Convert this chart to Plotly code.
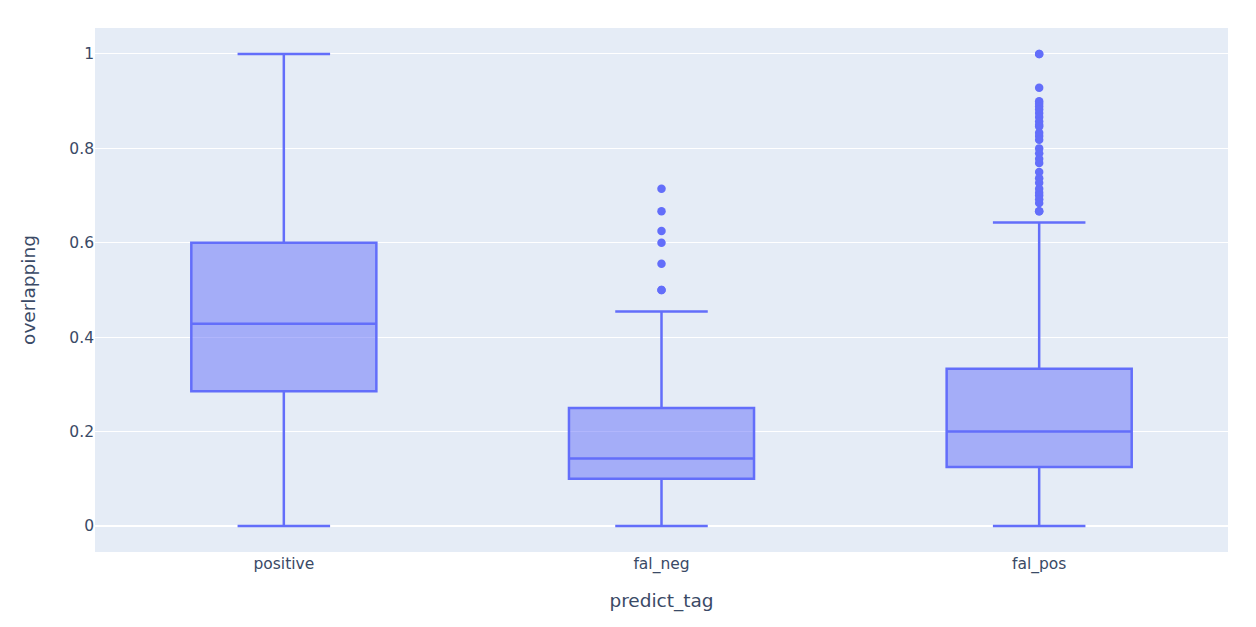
import plotly.graph_objects as go

# categories and box statistics
tags = ['positive', 'fal_neg', 'fal_pos']
q1 = [0.2857, 0.1, 0.125]
median = [0.4286, 0.1429, 0.2]
q3 = [0.6, 0.25, 0.3333]
lower_fence = [0.0, 0.0, 0.0]
upper_fence = [1.0, 0.4545, 0.6429]

# outliers per category
outliers_fal_neg = [0.7143, 0.6667, 0.625, 0.6, 0.5556, 0.5, 0.5]
outliers_fal_pos = [1.0, 1.0, 0.9286, 0.9, 0.8947, 0.8889, 0.8824, 0.875, 0.8667,
                    0.8571, 0.85, 0.8462, 0.8333, 0.8261, 0.8182, 0.8, 0.7895,
                    0.7778, 0.7692, 0.75, 0.7368, 0.7273, 0.7143, 0.7059, 0.7,
                    0.6923, 0.6842, 0.6667, 0.6667]

color = '#636efa'

fig = go.Figure()
fig.add_trace(go.Box(x=tags, q1=q1, median=median, q3=q3,
                     lowerfence=lower_fence, upperfence=upper_fence,
                     marker_color=color, line_width=2.5, offsetgroup='1',
                     boxpoints=False, showlegend=False))

out_x = ['fal_neg'] * len(outliers_fal_neg) + ['fal_pos'] * len(outliers_fal_pos)
out_y = outliers_fal_neg + outliers_fal_pos
fig.add_trace(go.Scatter(x=out_x, y=out_y, mode='markers',
                         marker=dict(color=color, size=8.5),
                         showlegend=False))

fig.update_layout(template='plotly_white', boxmode='group',
                  plot_bgcolor='#e5ecf6', paper_bgcolor='white',
                  width=1240, height=611,
                  margin=dict(l=87, r=20, t=20, b=67),
                  font=dict(family='DejaVu Sans, Verdana, sans-serif', color='#3a4a66', size=15.5),
                  xaxis=dict(title=dict(text='predict_tag', font=dict(size=18.5), standoff=21),
                             categoryorder='array', categoryarray=tags,
                             showgrid=False, range=[-0.5, 2.5], ticklen=3),
                  yaxis=dict(title=dict(text='overlapping', font=dict(size=18.5), standoff=28),
                             range=[-0.055, 1.055], gridcolor='white',
                             zeroline=True, zerolinecolor='white', zerolinewidth=2,
                             tickvals=[0, 0.2, 0.4, 0.6, 0.8, 1],
                             ticktext=['0', '0.2', '0.4', '0.6', '0.8', '1']))

fig.write_html("out.html")
